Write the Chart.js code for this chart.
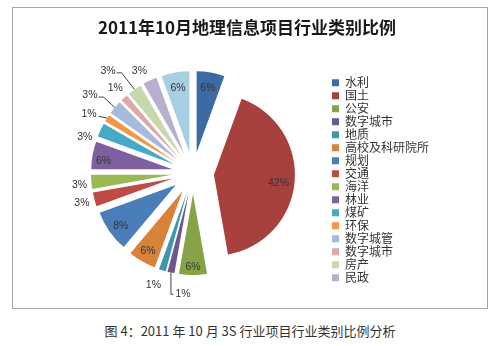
<!DOCTYPE html>
<html>
<head>
<meta charset="utf-8">
<script src="https://cdn.jsdelivr.net/npm/chart.js@4/dist/chart.umd.min.js"></script>
<style>
  body { margin: 0; background: #fff; width: 500px; height: 346px; position: relative; overflow: hidden; font-family: "Noto Sans CJK SC", sans-serif; }
  #box { position: absolute; left: 12px; top: 7px; width: 474px; height: 300px; border: 1px solid #a6a6a6; }
  #caption { position: absolute; left: 0; top: 322px; width: 500px; text-align: center; font-size: 13px; line-height: 18px; color: #333; }
</style>
</head>
<body>
<div id="box"><canvas id="industryPie" width="474" height="300"></canvas></div>
<div id="caption">图 4：2011 年 10 月 3S 行业项目行业类别比例分析</div>
<script>
// project counts per industry (72 projects in total)
const categories = ['水利', '国土', '公安', '数字城市', '地质', '高校及科研院所', '规划', '交通', '海洋', '林业', '煤矿', '环保', '数字城管', '数字城市', '房产', '民政', '其他'];
const projectCounts = [4, 30, 4, 1, 1, 4, 6, 2, 2, 4, 2, 1, 2, 1, 2, 2, 4];
const sliceColors = ['#3c6aa5', '#a8403d', '#86a447', '#6e5693', '#3c97af', '#d9833a', '#4a7ebb', '#be4b48', '#98b954', '#7d60a0', '#46aac5', '#f59644', '#a7b9db', '#dca9a8', '#c7d9aa', '#b8afcf', '#a6cfe1'];

const EXPLODE = 21;
const total = projectCounts.reduce((a, b) => a + b, 0);

// small label tweaks, like excel does for crowded slices
const labelNudge = {1: [0, 3], 2: [0, 8], 3: [15, 9], 4: [-5, 2], 5: [-2, 4], 6: [-2, 4], 8: [1, 2], 9: [-5, 3],
    10: [-4, 13], 11: [-7, 3], 12: [-15, -4], 14: [-19, -8], 15: [-5, 2]};
const leaderLines = {3: 'elbow', 11: 'straight', 12: 'hook', 14: 'hook'};

// move every slice out from the centre
const explode = {
    id: 'explode',
    afterDatasetsUpdate(chart) {
        chart.getDatasetMeta(0).data.forEach(arc => {
            const mid = (arc.startAngle + arc.endAngle) / 2;
            arc.x += Math.cos(mid) * EXPLODE;
            arc.y += Math.sin(mid) * EXPLODE;
        });
    }
};

const legendShift = {
    id: 'legendShift',
    afterLayout(chart) {
        chart.legend.top += 27;
        chart.legend.bottom += 27;
        chart.legend.left -= 1;
        chart.legend.right -= 1;
    }
};

const sliceLabels = {
    id: 'sliceLabels',
    afterDatasetsDraw(chart) {
        const ctx = chart.ctx;
        ctx.save();
        ctx.font = '10.5px "Liberation Sans"';
        ctx.fillStyle = '#333';
        ctx.strokeStyle = '#404040';
        ctx.lineWidth = 1;
        ctx.textAlign = 'center';
        ctx.textBaseline = 'middle';
        chart.getDatasetMeta(0).data.forEach((arc, i) => {
            const mid = (arc.startAngle + arc.endAngle) / 2;
            const inside = projectCounts[i] >= 4;
            const r = arc.outerRadius * (inside ? 0.8 : 1.16);
            const nudge = labelNudge[i] || [0, 0];
            const x = arc.x + Math.cos(mid) * r + nudge[0];
            const y = arc.y + Math.sin(mid) * r + nudge[1];
            const text = Math.round(projectCounts[i] / total * 100) + '%';
            const w = ctx.measureText(text).width;
            const px = arc.x + Math.cos(mid) * arc.outerRadius;
            const py = arc.y + Math.sin(mid) * arc.outerRadius;
            const kind = leaderLines[i];
            if (kind) {
                ctx.beginPath();
                if (kind === 'elbow') {
                    ctx.moveTo(px, py);
                    ctx.lineTo(px, y);
                    ctx.lineTo(x - w / 2 - 2, y);
                } else if (kind === 'straight') {
                    ctx.moveTo(x + w / 2 + 2, y + 2);
                    ctx.lineTo(px, py);
                } else {
                    ctx.moveTo(x + w / 2 + 1, y + 2);
                    ctx.lineTo(x + w / 2 + 6, y + 2);
                    ctx.lineTo(px, py);
                }
                ctx.stroke();
            }
            ctx.fillText(text, x, y);
        });
        ctx.restore();
    }
};

Chart.defaults.font.family = '"Noto Sans CJK SC", sans-serif';

const chart = new Chart(document.getElementById('industryPie'), {
    type: 'pie',
    data: {
        labels: categories,
        datasets: [{
            data: projectCounts,
            backgroundColor: sliceColors,
            borderWidth: 0
        }]
    },
    options: {
        responsive: false,
        animation: false,
        devicePixelRatio: 1,
        radius: 81,
        layout: {
            padding: {left: 41, right: 47, top: 0, bottom: 9.4}
        },
        plugins: {
            title: {
                display: true,
                text: '2011年10月地理信息项目行业类别比例',
                color: '#1a1a1a',
                font: {size: 17, weight: 'bold'},
                padding: {top: 9, bottom: 10}
            },
            legend: {
                position: 'right',
                labels: {
                    boxWidth: 7,
                    boxHeight: 7,
                    padding: 1,
                    color: '#333',
                    font: {size: 12},
                    filter: item => item.index < 16
                }
            },
            tooltip: {enabled: false}
        }
    },
    plugins: [explode, legendShift, sliceLabels]
});
</script>
</body>
</html>
